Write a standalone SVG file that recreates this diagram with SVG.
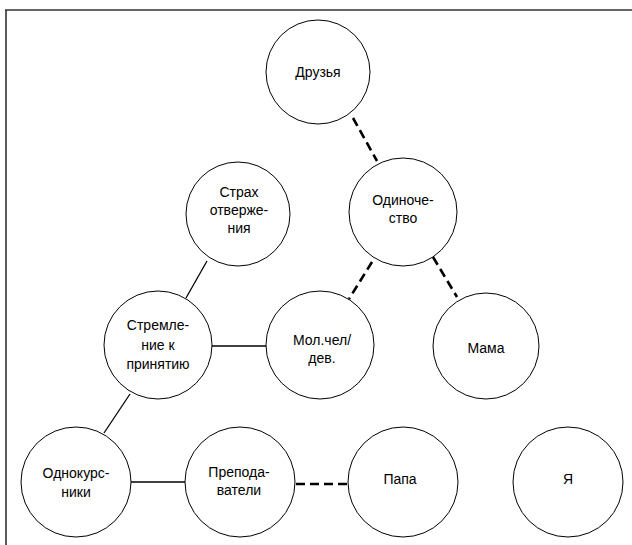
<svg xmlns="http://www.w3.org/2000/svg" width="632" height="545" viewBox="0 0 632 545">
<style>
.n circle{fill:#fff;stroke:#000;stroke-width:1}
.n text{font-family:"Liberation Sans",Arial,sans-serif;font-size:14px;fill:#000;text-anchor:middle}
.s{stroke:#000;stroke-width:1.3;fill:none}
.d{stroke:#000;stroke-width:2.6;fill:none;stroke-dasharray:9 5}
.f{stroke:#333;stroke-width:1.6;fill:none}
</style>
<rect width="632" height="545" fill="#fff"/>
<g id="frame">
<line class="f" x1="5" y1="10" x2="632" y2="10"/>
<line class="f" x1="6" y1="10" x2="6" y2="545"/>
</g>
<g id="connectors">
<line class="d" x1="353" y1="118" x2="377" y2="161"/>
<line class="d" x1="372" y1="262" x2="349" y2="299"/>
<line class="d" x1="433" y1="257" x2="457" y2="297"/>
<line class="d" x1="296" y1="484" x2="349" y2="484"/>
<line class="s" x1="207" y1="261" x2="186" y2="298"/>
<line class="s" x1="212" y1="346" x2="266" y2="346"/>
<line class="s" x1="130" y1="394" x2="104" y2="433"/>
<line class="s" x1="131" y1="482" x2="185" y2="482"/>
</g>
<g id="druzya" class="n"><circle cx="318" cy="72" r="52"/><text x="318" y="77">Друзья</text></g>
<g id="odinochestvo" class="n"><circle cx="403" cy="212" r="54"/><text x="403" y="205">Одиноче-</text><text x="403" y="223">ство</text></g>
<g id="strakh" class="n"><circle cx="238" cy="214" r="52"/><text x="239" y="197">Страх</text><text x="239" y="215">отверже-</text><text x="239" y="233">ния</text></g>
<g id="stremlenie" class="n"><circle cx="158" cy="345" r="54"/><text x="158" y="330">Стремле-</text><text x="158" y="350">ние к</text><text x="158" y="369">принятию</text></g>
<g id="molchel" class="n"><circle cx="320" cy="345" r="54"/><text x="322" y="345">Мол.чел/</text><text x="322" y="363">дев.</text></g>
<g id="mama" class="n"><circle cx="486" cy="346" r="53"/><text x="486" y="353">Мама</text></g>
<g id="odnokursniki" class="n"><circle cx="76" cy="482" r="55"/><text x="76" y="478">Однокурс-</text><text x="76" y="497">ники</text></g>
<g id="prepodavateli" class="n"><circle cx="240" cy="482" r="55"/><text x="239" y="477">Препода-</text><text x="239" y="495">ватели</text></g>
<g id="papa" class="n"><circle cx="403" cy="482" r="55"/><text x="400" y="484">Папа</text></g>
<g id="ya" class="n"><circle cx="568" cy="482" r="55"/><text x="568" y="484">Я</text></g>
</svg>
